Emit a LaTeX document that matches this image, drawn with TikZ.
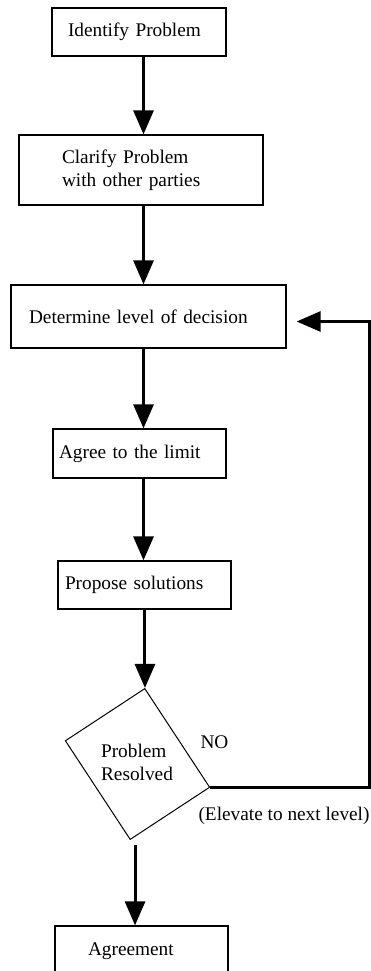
\documentclass[tikz,border=0pt]{standalone}
\usepackage{fontspec}
\setmainfont{Liberation Serif}
\usetikzlibrary{arrows.meta,calc}

\begin{document}
\begin{tikzpicture}[x=1pt,y=-1pt,
  txt/.style={font=\fontsize{19.3}{23}\selectfont},
  box/.style={txt, draw, line width=1.3pt, align=left, inner ysep=0pt},
  decision/.style={draw, line width=1pt, inner sep=0pt, minimum width=118pt, minimum height=95pt, rotate=-56.7},
  lbl/.style={txt, inner sep=0pt},
  flow/.style={line width=3pt, -{Triangle[width=20pt,length=24pt]}}]

  \path[use as bounding box, clip] (0,0) rectangle (371,971);

  % process steps
  \node[box, text width=142pt, inner xsep=16pt, minimum height=48pt] (b1) at (139,32) {Identify Problem};
  \node[box, text width=158pt, inner xsep=43pt, minimum height=70pt] (b2) at (141,170) {Clarify Problem\\with other parties};
  \node[box, text width=239pt, inner xsep=18pt, minimum height=63pt] (b3) at (148.5,316.5) {Determine level of decision};
  \node[box, text width=161pt, inner xsep=6pt, minimum height=49pt] (b4) at (139.5,453.5) {Agree to the limit};
  \node[box, text width=159pt, inner xsep=7pt, minimum height=48pt] (b5) at (144.5,585) {Propose solutions};

  % decision
  \node[decision] (dm) at (137.5,764) {};
  \node[lbl, align=left] (dt) at (137,762) {Problem\\Resolved};
  \node[lbl] (no) at (214.5,742) {NO};
  \node[lbl] (el) at (284,816) {(Elevate to next level)};

  \node[box, text width=107pt, inner xsep=33pt, minimum height=50pt] (b6) at (141.5,951) {Agreement};

  % connectors
  \coordinate (sp) at (143.5,0);
  \draw[flow] (b1.south -| sp) -- (b2.north -| sp);
  \draw[flow] (b2.south -| sp) -- (b3.north -| sp);
  \draw[flow] (b3.south -| sp) -- (b4.north -| sp);
  \draw[flow] (b4.south -| sp) -- (b5.north -| sp);
  \draw[flow] (dm.north west |- b5.south) -- (dm.north west);

  \coordinate (d6) at ($(dm.south east)+(5,5)$);
  \draw[flow] (d6) -- (d6 |- b6.north);

  % loop back when not resolved
  \coordinate (rt) at (369,0);
  \coordinate (fb) at ($(b3.east)+(10,5)$);
  \draw[flow] (dm.north east) -- (dm.north east -| rt) -- (rt |- fb) -- (fb);
\end{tikzpicture}
\end{document}
